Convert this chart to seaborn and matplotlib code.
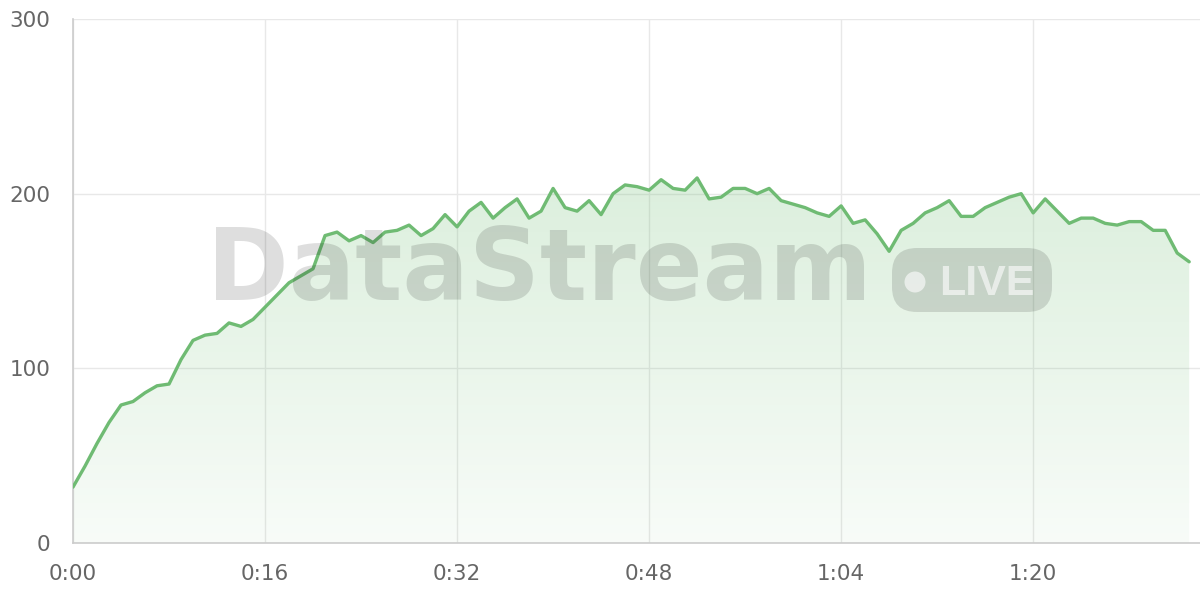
import matplotlib
matplotlib.use("Agg")
import matplotlib.pyplot as plt
import matplotlib.ticker as mticker
from matplotlib.patches import FancyBboxPatch, Circle
import numpy as np
import pandas as pd
import seaborn as sns

LINE = "#6fbb73"
FILL_RGB = (0.42, 0.74, 0.44)
GRID = "#e8e8e8"
AXIS = "#cccccc"
LABEL = "#666666"

# one reading per second
values = [
    32, 44, 57, 69, 79, 81, 86, 90, 91, 105,
    116, 119, 120, 126, 124, 128, 135, 142, 149, 153,
    157, 176, 178, 173, 176, 172, 178, 179, 182, 176,
    180, 188, 181, 190, 195, 186, 192, 197, 186, 190,
    203, 192, 190, 196, 188, 200, 205, 204, 202, 208,
    203, 202, 209, 197, 198, 203, 203, 200, 203, 196,
    194, 192, 189, 187, 193, 183, 185, 177, 167, 179,
    183, 189, 192, 196, 187, 187, 192, 195, 198, 200,
    189, 197, 190, 183, 186, 186, 183, 182, 184, 184,
    179, 179, 166, 161,
]
seconds = list(range(len(values)))
x_ticks = [0, 16, 32, 48, 64, 80]
y_ticks = [0, 100, 200, 300]

sns.set_theme(style="white")
plt.rcParams["font.family"] = ["DejaVu Sans"]

df = pd.DataFrame({"t": seconds, "v": values})

fig = plt.figure(figsize=(12, 6), dpi=100)
ax = fig.add_axes([73 / 1200, 57 / 600, 1 - 73 / 1200, 524 / 600])

sns.lineplot(data=df, x="t", y="v", ax=ax, color=LINE, linewidth=2.4, zorder=4)

# Gradient fill under the line, clipped to the area polygon
poly = ax.fill_between(df["t"], df["v"], 0, color="none", lw=0)
grad = np.zeros((256, 1, 4))
grad[..., :3] = FILL_RGB
grad[:, 0, 3] = np.linspace(0.24, 0.05, 256)
img = ax.imshow(grad, aspect="auto", origin="upper", zorder=2,
                extent=[seconds[0], seconds[-1], 0, max(values)])
img.set_clip_path(poly.get_paths()[0], transform=ax.transData)

ax.set_xlim(0, 93.9)
ax.set_ylim(0, 300)
ax.set_xticks(x_ticks)
ax.set_yticks(y_ticks)
ax.xaxis.set_major_formatter(mticker.FuncFormatter(lambda x, _: f"{int(x // 60)}:{int(x % 60):02d}"))
ax.set_xlabel("")
ax.set_ylabel("")

ax.set_axisbelow(True)
ax.grid(True, color=GRID, linewidth=1)
ax.tick_params(axis="y", length=11, width=1, color=GRID, pad=5.5, labelcolor=LABEL, labelsize=15.5)
ax.tick_params(axis="x", length=10, width=1, color=GRID, pad=5, labelcolor=LABEL, labelsize=15.5)
for side in ("top", "right"):
    ax.spines[side].set_visible(False)
for side in ("left", "bottom"):
    ax.spines[side].set_color(AXIS)
    ax.spines[side].set_linewidth(1.2)

# Watermark
fig.text(207 / 1200, 1 - 300 / 600, "DataStream", fontsize=71, fontweight="bold",
         color="black", alpha=0.13, ha="left", va="baseline", zorder=10)
badge = FancyBboxPatch((8.92, 2.88), 1.60, 0.64, transform=fig.dpi_scale_trans,
                       boxstyle="round,pad=0,rounding_size=0.25",
                       facecolor="black", alpha=0.13, edgecolor="none", zorder=10)
fig.add_artist(badge)
fig.add_artist(Circle((9.15, 3.18), 0.105, transform=fig.dpi_scale_trans,
                      facecolor="white", alpha=0.6, edgecolor="none", zorder=11))
fig.text(939 / 1200, 1 - 295 / 600, "LIVE", fontsize=31, fontweight="bold",
         family=["Liberation Sans", "DejaVu Sans"],
         color="white", alpha=0.6, ha="left", va="baseline", zorder=11)

fig.savefig("out.png", dpi=100)
plt.close(fig)
